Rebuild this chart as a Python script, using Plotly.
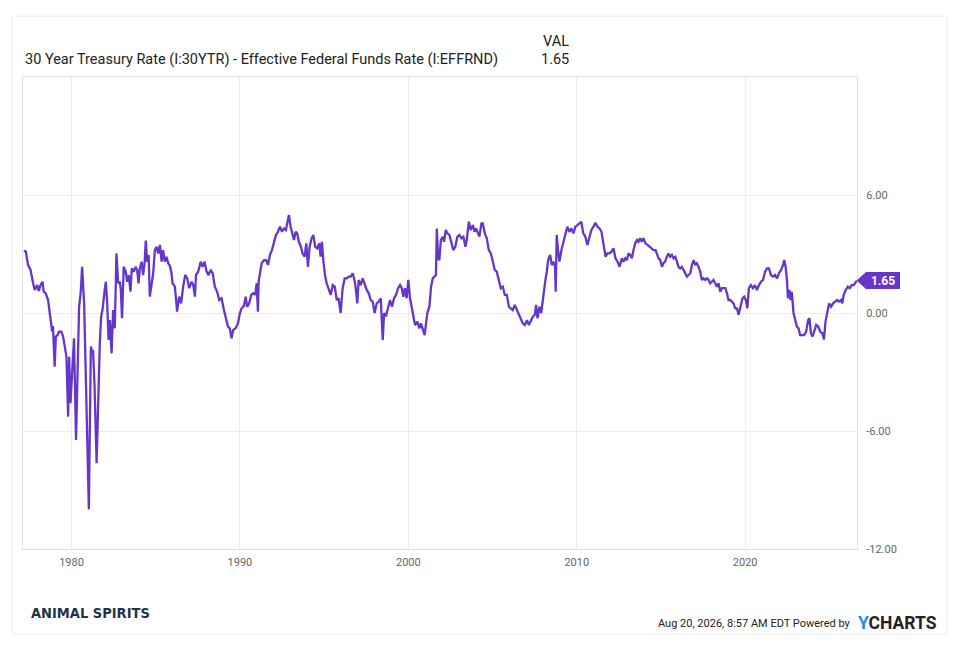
import plotly.graph_objects as go

# ---- data (decimal year, spread in %) ----
years = [
1977.17,1977.29,1977.42,1977.56,1977.72,1977.82,1977.96,1978.06,1978.16,1978.28,1978.35,1978.47,1978.61,1978.75,1978.85,1978.90,
1979.00,1979.07,1979.17,1979.26,1979.40,1979.50,1979.60,1979.70,1979.80,1979.86,1979.94,1980.06,1980.15,1980.27,1980.39,1980.45,
1980.55,1980.63,1980.75,1980.89,1981.03,1981.15,1981.22,1981.28,1981.37,1981.49,1981.60,1981.68,1981.76,1981.84,1981.96,1982.04,
1982.12,1982.20,1982.28,1982.38,1982.47,1982.57,1982.67,1982.77,1982.87,1982.93,1983.00,1983.10,1983.22,1983.30,1983.40,1983.50,
1983.58,1983.70,1983.80,1983.90,1983.98,1984.06,1984.16,1984.25,1984.34,1984.41,1984.49,1984.58,1984.65,1984.75,1984.85,1984.95,
1985.05,1985.15,1985.25,1985.35,1985.44,1985.54,1985.64,1985.74,1985.84,1985.94,
1986.00,1986.14,1986.27,1986.39,1986.51,1986.63,1986.75,1986.87,1986.99,1987.13,1987.23,1987.33,1987.39,1987.52,1987.67,1987.78,
1987.90,1988.02,1988.14,1988.26,1988.38,1988.51,1988.65,1988.77,1988.91,1989.05,1989.17,1989.29,1989.40,1989.50,1989.60,1989.74,
1989.88,1990.00,1990.10,1990.24,1990.34,1990.43,1990.55,1990.67,1990.79,1990.91,1990.99,1991.07,1991.11,1991.19,1991.29,1991.43,
1991.55,1991.67,1991.78,1991.90,1992.02,1992.14,1992.26,1992.38,1992.50,1992.62,1992.73,1992.81,1992.91,1993.01,1993.11,1993.21,
1993.31,1993.40,1993.50,1993.62,1993.72,1993.84,1993.94,1994.04,1994.14,1994.26,1994.36,1994.47,1994.59,1994.71,1994.79,1994.87,
1994.95,1995.05,1995.15,1995.27,1995.39,1995.51,1995.63,1995.75,1995.86,1995.98,1996.10,1996.22,1996.34,1996.46,1996.58,1996.70,
1996.82,1996.89,1996.97,1997.05,1997.17,1997.29,1997.41,1997.53,1997.65,1997.77,1997.88,1998.00,1998.12,1998.24,1998.36,1998.48,
1998.56,1998.67,1998.79,1998.91,1999.03,1999.15,1999.27,1999.39,1999.51,1999.61,1999.70,1999.80,1999.90,2000.00,2000.10,2000.20,
2000.30,2000.40,2000.54,2000.65,2000.75,2000.85,2000.97,2001.05,2001.13,2001.25,2001.35,2001.45,2001.57,2001.64,2001.69,2001.77,
2001.84,2001.93,2002.04,2002.12,2002.22,2002.32,2002.44,2002.56,2002.67,2002.79,2002.91,2003.03,2003.15,2003.27,2003.39,2003.47,
2003.59,2003.71,2003.83,2003.94,2004.02,2004.14,2004.22,2004.34,2004.42,2004.54,2004.66,2004.78,2004.90,2005.02,2005.13,2005.25,
2005.37,2005.49,2005.61,2005.73,2005.85,2005.97,2006.08,2006.20,2006.32,2006.44,2006.56,2006.68,2006.80,2006.92,2007.04,2007.16,
2007.27,2007.39,2007.51,2007.59,2007.67,2007.79,2007.89,2007.99,2008.07,2008.14,2008.22,2008.30,2008.42,2008.52,2008.61,2008.71,
2008.75,2008.81,2008.89,2008.97,2009.09,2009.20,2009.32,2009.44,2009.56,2009.68,2009.80,2009.92,2010.04,2010.16,2010.27,2010.39,
2010.51,2010.63,2010.75,2010.87,2010.99,2011.11,2011.23,2011.35,2011.47,2011.59,2011.71,2011.82,2011.94,2012.06,2012.18,2012.30,
2012.42,2012.54,
2012.68,2012.78,2012.88,2012.98,2013.07,2013.17,2013.27,2013.37,2013.47,2013.57,2013.66,2013.76,2013.86,2013.96,2014.08,2014.20,
2014.32,2014.44,2014.56,2014.68,2014.76,2014.86,2014.96,2015.06,2015.15,2015.25,2015.35,2015.45,2015.55,2015.65,2015.75,2015.85,
2015.95,2016.04,2016.14,2016.24,2016.34,2016.44,2016.54,2016.64,2016.74,2016.84,2016.94,2017.04,2017.13,2017.23,2017.33,2017.43,
2017.53,2017.63,2017.73,2017.83,2017.92,2018.02,2018.12,2018.22,2018.32,2018.42,2018.52,2018.62,2018.72,2018.82,2018.92,2019.01,
2019.11,2019.21,2019.31,2019.41,2019.51,2019.61,2019.66,2019.75,2019.84,2019.94,2020.04,2020.13,2020.22,2020.34,2020.46,2020.58,
2020.70,2020.82,2020.94,2021.06,2021.18,2021.30,2021.41,2021.53,2021.65,2021.77,2021.89,2022.01,2022.13,2022.25,2022.32,2022.40,
2022.48,2022.54,2022.62,2022.69,2022.77,2022.87,2022.97,2023.07,2023.17,2023.26,2023.38,2023.50,2023.62,2023.74,2023.82,2023.90,
2024.00,2024.10,2024.22,2024.34,2024.46,2024.58,2024.68,2024.77,2024.86,2024.98,2025.10,2025.22,2025.34,2025.46,2025.58,2025.69,
2025.77,2025.85,2025.97,2026.09,2026.21,2026.33,2026.45,2026.57,2026.63,
]
spread = [
3.17,3.12,2.44,2.22,1.51,1.17,1.42,1.12,1.42,1.59,1.08,1.00,0.66,-0.19,-0.95,-0.66,
-2.73,-1.20,-1.12,-0.95,-0.95,-1.20,-1.80,-2.22,-5.27,-2.22,-4.59,-2.90,-1.29,-6.46,-0.69,0.29,
1.08,2.35,0.49,-4.93,-9.98,-1.71,-1.97,-1.88,-3.75,-7.64,-3.75,-1.54,-0.19,0.15,1.08,1.59,
0.49,-1.37,-0.36,-2.05,0.15,-0.78,3.03,1.51,1.59,1.17,-0.27,2.35,2.10,1.59,1.93,1.08,
2.27,2.10,2.35,2.19,1.51,2.27,2.61,1.93,2.53,3.68,2.61,2.95,0.83,1.42,2.02,3.20,
3.37,3.03,3.46,2.61,3.20,2.61,2.86,2.53,2.40,2.02,
1.51,1.34,0.07,0.83,0.49,1.34,1.93,1.76,1.26,1.59,1.42,0.83,1.93,2.10,2.61,2.35,
2.61,2.10,1.93,2.19,2.02,1.34,1.08,0.66,0.75,0.15,-0.36,-0.69,-0.78,-1.29,-0.86,-0.78,
-0.53,0.00,0.24,0.36,0.83,0.32,0.49,0.92,1.00,0.92,1.51,0.07,1.59,2.10,2.53,2.69,
2.69,2.44,2.95,3.20,3.54,3.97,4.13,4.39,4.13,4.30,4.22,4.56,4.98,4.39,4.05,3.71,
4.13,4.05,3.62,3.37,3.03,2.86,3.54,2.35,3.37,3.80,3.97,3.37,3.29,3.54,2.86,3.62,
2.69,1.93,1.51,1.26,0.92,1.42,1.34,0.66,0.75,0.00,1.26,1.76,1.76,1.85,1.85,2.02,
1.59,1.17,0.49,1.68,1.42,1.76,1.42,1.17,1.00,0.66,0.58,0.00,0.49,0.58,0.75,-1.37,
0.00,-0.17,0.24,0.66,0.32,0.75,0.92,1.26,1.42,1.26,0.83,1.26,0.75,1.68,0.75,0.32,
-0.09,-0.61,-0.44,-0.78,-0.53,-0.78,-1.12,-0.53,0.00,0.32,1.34,1.76,1.85,1.93,4.30,2.78,
2.69,3.71,3.88,3.62,4.22,4.05,3.97,3.62,3.20,3.37,3.88,3.97,3.80,3.88,3.37,3.71,
4.64,4.22,4.47,4.13,4.30,4.05,3.88,4.56,4.56,4.05,3.80,3.20,3.03,2.61,2.19,2.10,
1.68,1.26,1.34,0.92,0.92,0.32,0.24,0.15,0.41,0.15,-0.09,-0.27,-0.53,-0.61,-0.36,-0.61,
-0.36,-0.19,-0.09,0.41,-0.27,0.32,0.00,0.66,1.42,1.68,2.10,2.69,2.95,2.44,2.61,2.35,
1.08,3.97,3.20,2.61,3.20,3.54,3.88,4.39,4.13,4.30,4.05,4.39,4.47,4.56,4.64,4.05,
3.88,3.46,3.80,4.22,4.39,4.59,4.39,4.30,4.13,3.46,2.86,3.03,3.03,3.12,3.29,2.78,
2.61,2.35,
2.78,2.61,2.78,2.69,3.03,2.95,2.78,3.20,3.54,3.71,3.62,3.80,3.62,3.80,3.54,3.46,
3.37,3.29,3.20,3.20,2.95,2.78,2.69,2.35,2.53,2.61,2.86,3.03,2.86,2.95,2.78,2.86,
2.61,2.35,2.27,2.35,2.19,2.02,1.85,1.93,2.02,2.44,2.69,2.44,2.53,2.35,2.10,1.68,
1.76,1.68,1.76,1.68,1.51,1.59,1.68,1.51,1.34,1.51,1.08,1.26,1.26,1.26,1.00,0.66,
0.66,0.58,0.49,0.24,0.24,-0.09,0.07,0.41,0.75,0.83,0.66,0.24,1.26,1.42,1.26,1.42,
1.17,1.42,1.59,1.68,2.10,2.27,2.27,1.93,1.85,1.93,1.76,2.02,2.19,2.44,2.69,2.35,
1.68,0.75,1.17,0.66,1.08,0.00,-0.44,-0.69,-0.78,-1.12,-1.12,-1.12,-0.95,-0.36,-0.27,-1.03,
-1.20,-0.95,-0.61,-0.69,-0.95,-1.03,-1.34,-0.44,-0.09,0.49,0.32,0.49,0.58,0.66,0.58,0.66,
0.49,0.92,1.17,1.34,1.26,1.42,1.42,1.59,1.65,
]

x_tickvals = [1980, 1990, 2000, 2010, 2020]
x_ticktext = ["1980", "1990", "2000", "2010", "2020"]
y_tickvals = [-12, -6, 0, 6, 12]
y_ticktext = ["-12.00", "-6.00", "0.00", "6.00", ""]

series_name = "30 Year Treasury Rate (I:30YTR) - Effective Federal Funds Rate (I:EFFRND)"
last_val = spread[-1]
last_txt = f"{last_val:.2f}"

LINE = "#6636cc"
GRID = "#ececec"
FONT = "Roboto"

fig = go.Figure()
fig.add_trace(go.Scatter(
    x=years, y=spread, mode="lines",
    line=dict(color=LINE, width=2.3),
    hoverinfo="skip", showlegend=False,
))

fig.update_layout(
    width=950, height=641,
    margin=dict(l=15, r=101, t=69, b=100),
    paper_bgcolor="white", plot_bgcolor="white",
    font=dict(family=FONT, color="#666666", size=11),
    xaxis=dict(
        range=[1977.12, 2026.64], tickvals=x_tickvals, ticktext=x_ticktext,
        showgrid=True, gridcolor=GRID, gridwidth=1,
        showline=True, linecolor="#dedede", linewidth=1, mirror=True,
        zeroline=False, ticks="", tickfont=dict(size=11, color="#666666"),
        ticklabelstandoff=3,
    ),
    yaxis=dict(
        range=[-12, 12], tickvals=y_tickvals, ticktext=y_ticktext, side="right",
        showgrid=True, gridcolor=GRID, gridwidth=1,
        showline=True, linecolor="#e4e4e4", linewidth=1, mirror=True,
        zeroline=False, ticks="", tickfont=dict(size=11, color="#666666"),
        ticklabelstandoff=6,
    ),
)

# outer frame
fig.add_shape(type="rect", xref="paper", yref="paper",
              x0=-0.0132, x1=1.108, y0=-0.18, y1=1.129,
              line=dict(color="#ececec", width=1), fillcolor="rgba(0,0,0,0)", layer="below")

# last value flag: triangle pointer + boxed label
h = 0.43
a = 1.0115
fig.add_shape(type="path", xref="paper", yref="y",
              path=f"M 1.0,{last_val} L {a},{last_val + h} L {a},{last_val - h} Z",
              fillcolor=LINE, line=dict(color=LINE, width=1))
fig.add_annotation(x=a - 0.001, y=last_val, xref="paper", yref="y",
                   xanchor="left", yanchor="middle",
                   text=f"<b>{last_txt}</b>", showarrow=False,
                   width=30, height=13, borderpad=2, align="center",
                   bgcolor=LINE, bordercolor=LINE, borderwidth=0,
                   font=dict(family=FONT, size=12, color="white"))

# header
fig.add_annotation(x=0, y=1.038, xref="paper", yref="paper", xanchor="left", yanchor="middle",
                   text=series_name, showarrow=False,
                   font=dict(family=FONT, size=14.5, color="#222222"))
fig.add_annotation(x=0.621, y=1.076, xref="paper", yref="paper", xanchor="left", yanchor="middle",
                   text="VAL", showarrow=False,
                   font=dict(family=FONT, size=14.5, color="#222222"))
fig.add_annotation(x=0.619, y=1.038, xref="paper", yref="paper", xanchor="left", yanchor="middle",
                   text=last_txt, showarrow=False,
                   font=dict(family=FONT, size=14.5, color="#222222"))

# footer
fig.add_annotation(x=0.007, y=-0.135, xref="paper", yref="paper", xanchor="left", yanchor="middle",
                   text="<b>ANIMAL SPIRITS</b>", showarrow=False,
                   font=dict(family="DejaVu Sans Condensed, DejaVu Sans, sans-serif", size=14.5, color="#1f3447"))
fig.add_annotation(x=0.995, y=-0.157, xref="paper", yref="paper", xanchor="right", yanchor="middle",
                   text="Aug 20, 2026, 8:57 AM EDT Powered by", showarrow=False,
                   font=dict(family=FONT, size=11, color="#222222"))
fig.add_annotation(x=0.999, y=-0.157, xref="paper", yref="paper", xanchor="left", yanchor="middle",
                   text="<b><span style='color:#1e8fe1'>Y</span>CHARTS</b>", showarrow=False,
                   font=dict(family=FONT, size=17.5, color="#222222"))

fig.write_html("out.html")
